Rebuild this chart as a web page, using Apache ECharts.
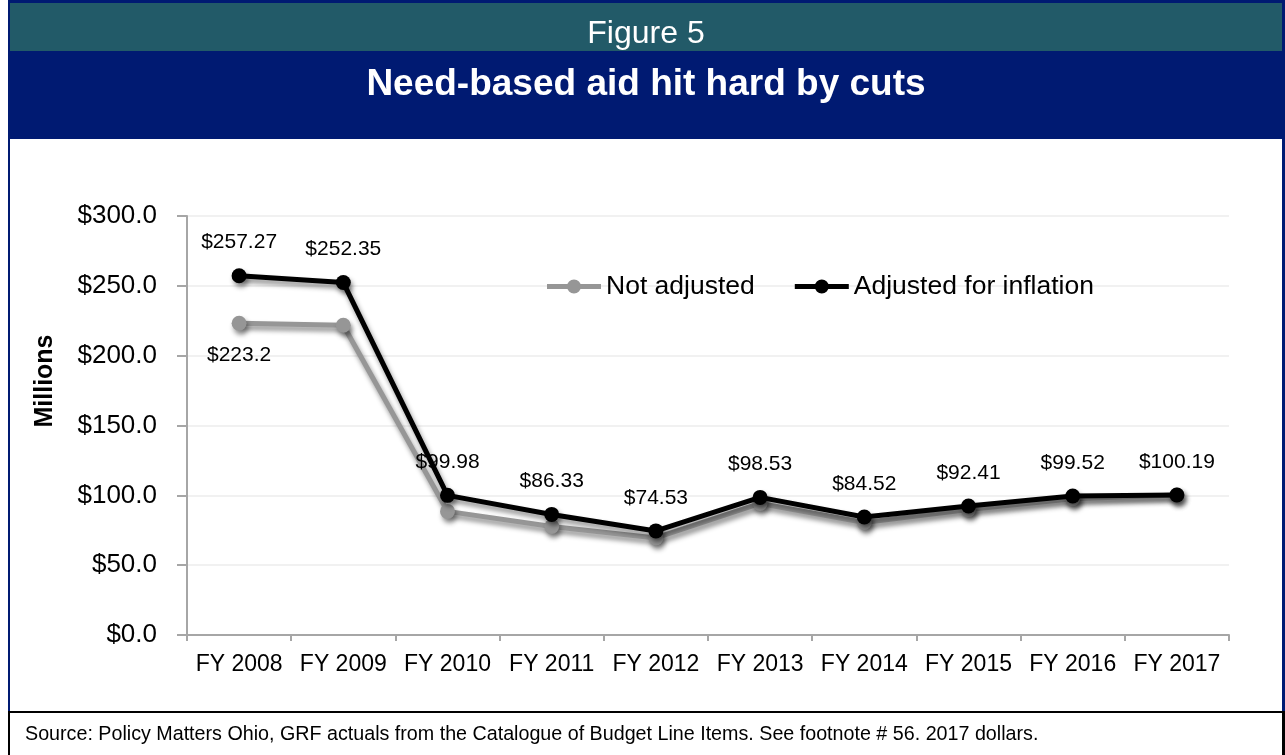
<!DOCTYPE html>
<html>
<head>
<meta charset="utf-8">
<script src="https://cdn.jsdelivr.net/npm/echarts@6/dist/echarts.min.js"></script>
<style>
html,body{margin:0;padding:0;background:#fff;}
#chart{width:1285px;height:755px;}
</style>
</head>
<body>
<div id="chart"></div>
<script>
const categories = ['FY 2008','FY 2009','FY 2010','FY 2011','FY 2012','FY 2013','FY 2014','FY 2015','FY 2016','FY 2017'];
const notAdjusted = [223.2, 221.8, 88.5, 77.7, 69.5, 94.2, 80.6, 89.8, 97.6, 100.19];
const adjusted = [257.27, 252.35, 99.98, 86.33, 74.53, 98.53, 84.52, 92.41, 99.52, 100.19];
const yTicks = {min: 0, max: 300, interval: 50};
const seriesNames = ['Not adjusted', 'Adjusted for inflation'];
const figureLabel = 'Figure 5';
const titleText = 'Need-based aid hit hard by cuts';
const axisName = 'Millions';
const sourceText = 'Source: Policy Matters Ohio, GRF actuals from the Catalogue of Budget Line Items. See footnote # 56. 2017 dollars.';

const FONT = '"Liberation Sans", Arial, Helvetica, sans-serif';
const NAVY = '#001a72';
const TEAL = '#225a68';
const shadow = {shadowColor: 'rgba(0,0,0,0.45)', shadowBlur: 5, shadowOffsetX: 2, shadowOffsetY: 4};
const legendIcon = 'path://M0,4.5 L54,4.5 L54,9.5 L0,9.5 Z M20,7 A7,7 0 1,1 34,7 A7,7 0 1,1 20,7 Z';

const chart = echarts.init(document.getElementById('chart'), null, {renderer: 'canvas'});

const grayData = notAdjusted.map((v, i) => i === 0 ? {
  value: v,
  label: {show: true, position: 'bottom', distance: 14, formatter: p => '$' + p.value}
} : v);

chart.setOption({
  animation: false,
  backgroundColor: '#fff',
  textStyle: {fontFamily: FONT},
  grid: {left: 187, right: 56, top: 216, bottom: 120, containLabel: false},
  legend: {
    data: [
      {name: seriesNames[0], icon: legendIcon},
      {name: seriesNames[1], icon: legendIcon}
    ],
    left: 542, top: 268,
    itemWidth: 54, itemHeight: 14, itemGap: 40,
    textStyle: {fontSize: 26.5, color: '#000', fontFamily: FONT}
  },
  xAxis: {
    type: 'category',
    data: categories,
    boundaryGap: true,
    axisLine: {lineStyle: {color: '#a6a6a6', width: 2}},
    axisTick: {show: true, length: 6, lineStyle: {color: '#a6a6a6', width: 2}},
    axisLabel: {interval: 0, fontSize: 23, color: '#000', margin: 18, fontFamily: FONT}
  },
  yAxis: {
    type: 'value',
    min: yTicks.min, max: yTicks.max, interval: yTicks.interval,
    axisLine: {show: true, lineStyle: {color: '#a6a6a6', width: 2}},
    axisTick: {show: true, length: 10, lineStyle: {color: '#a6a6a6', width: 2}},
    splitLine: {lineStyle: {color: '#ececec', width: 1.5}},
    axisLabel: {fontSize: 26, color: '#000', margin: 30, fontFamily: FONT,
      formatter: v => '$' + v.toFixed(1)}
  },
  series: [
    {
      name: seriesNames[0],
      type: 'line',
      data: grayData,
      symbol: 'circle', symbolSize: 15,
      z: 2,
      lineStyle: Object.assign({color: '#969696', width: 5}, shadow),
      itemStyle: Object.assign({color: '#969696'}, shadow),
      label: {show: false, fontSize: 21, color: '#000', fontFamily: FONT}
    },
    {
      name: seriesNames[1],
      type: 'line',
      data: adjusted,
      symbol: 'circle', symbolSize: 15,
      z: 3,
      lineStyle: Object.assign({color: '#000', width: 5}, shadow),
      itemStyle: Object.assign({color: '#000'}, shadow),
      label: {show: true, position: 'top', distance: 15, fontSize: 21, color: '#000', fontFamily: FONT,
        formatter: p => '$' + p.value}
    }
  ],
  graphic: [
    {type: 'rect', shape: {x: 8, y: 0, width: 1277, height: 139}, style: {fill: NAVY}, z: 10},
    {type: 'rect', shape: {x: 10, y: 3, width: 1272, height: 48}, style: {fill: TEAL}, z: 11},
    {type: 'text', x: 646, y: 34, z: 12, style: {text: figureLabel, fill: '#fff', font: '32px ' + FONT, textAlign: 'center', textVerticalAlign: 'middle'}},
    {type: 'text', x: 646, y: 85, z: 12, style: {text: titleText, fill: '#fff', font: 'bold 37px ' + FONT, textAlign: 'center', textVerticalAlign: 'middle'}},
    {type: 'rect', shape: {x: 8, y: 139, width: 2, height: 573}, style: {fill: NAVY}, z: 10},
    {type: 'rect', shape: {x: 1282, y: 139, width: 3, height: 573}, style: {fill: NAVY}, z: 10},
    {type: 'rect', shape: {x: 8, y: 711, width: 1277, height: 2}, style: {fill: '#000'}, z: 10},
    {type: 'rect', shape: {x: 8, y: 713, width: 2, height: 42}, style: {fill: '#000'}, z: 10},
    {type: 'rect', shape: {x: 1282, y: 713, width: 3, height: 42}, style: {fill: '#000'}, z: 10},
    {type: 'text', x: 25, y: 735, z: 12, style: {text: sourceText, fill: '#000', font: '19.7px ' + FONT, textAlign: 'left', textVerticalAlign: 'middle'}},
    {type: 'text', x: 45, y: 381, rotation: Math.PI / 2, z: 12, style: {text: axisName, fill: '#000', font: 'bold 25px ' + FONT, textAlign: 'center', textVerticalAlign: 'middle'}}
  ]
});
</script>
</body>
</html>
